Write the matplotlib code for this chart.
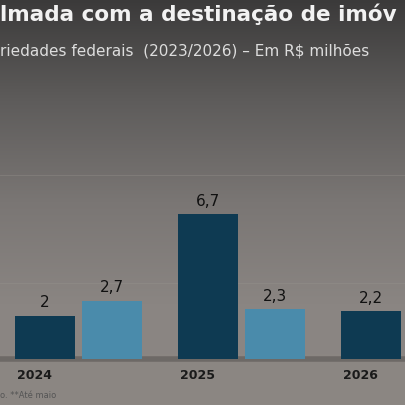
import matplotlib.pyplot as plt
import numpy as np
from matplotlib.colors import LinearSegmentedColormap

years = ['2024', '2025', '2026']
series_a = [2.0, 6.7, 2.2]
series_b = [2.7, 2.3, None]
label_a = ['2', '6,7', '2,2']
label_b = ['2,7', '2,3', '']

fig = plt.figure(figsize=(4.06, 4.06), dpi=100)
bg = fig.add_axes([0, 0, 1, 1])
grad = np.linspace(0, 1, 256).reshape(-1, 1)
cmap = LinearSegmentedColormap.from_list('bg', ['#3b3a3a', '#5e5c5b', '#7a7674', '#8a8582', '#8c8783'])
bg.imshow(grad, aspect='auto', cmap=cmap, extent=[0, 1, 0, 1], origin='upper')
bg.set_axis_off()

ax = fig.add_axes([0, 0, 1, 1])
ax.patch.set_alpha(0)
px = 21.6
ax.set_xlim(0, 406)
ax.set_ylim(-46 / px, 360 / px)
ax.set_axis_off()

for y in [3.5, 8.5]:
    ax.axhline(y, color='#9a9490', lw=0.6, alpha=0.4, zorder=0)
ax.axhline(0, color='#5a5654', lw=4, alpha=0.6, zorder=0)

group_x = [45, 208, 371]
w = 60
for i, yr in enumerate(years):
    xa = group_x[i]
    ax.bar(xa, series_a[i], width=w, color='#0e3a52', zorder=2)
    ax.text(xa, series_a[i] + 0.3, label_a[i], ha='center', va='bottom', fontsize=11, color='#111111')
    if series_b[i] is not None:
        xb = xa + 67
        ax.bar(xb, series_b[i], width=w, color='#4a8bab', zorder=2)
        ax.text(xb, series_b[i] + 0.3, label_b[i], ha='center', va='bottom', fontsize=11, color='#111111')
    ax.text(xa - 28, -0.4, yr, ha='left', va='top', fontsize=9, fontweight='bold', color='#1a1a1a')

fig.text(0.0, 0.965, 'lmada com a destinação de imóv', ha='left', va='center',
         fontsize=15.5, fontweight='bold', color='#f2f2f2')
fig.text(0.0, 0.875, 'riedades federais  (2023/2026) – Em R$ milhões', ha='left', va='center',
         fontsize=11, color='#dddddd')
fig.text(0.0, 0.027, 'o. **Até maio', ha='left', va='center', fontsize=6, color='#555555')

fig.savefig('out.png', dpi=100)
